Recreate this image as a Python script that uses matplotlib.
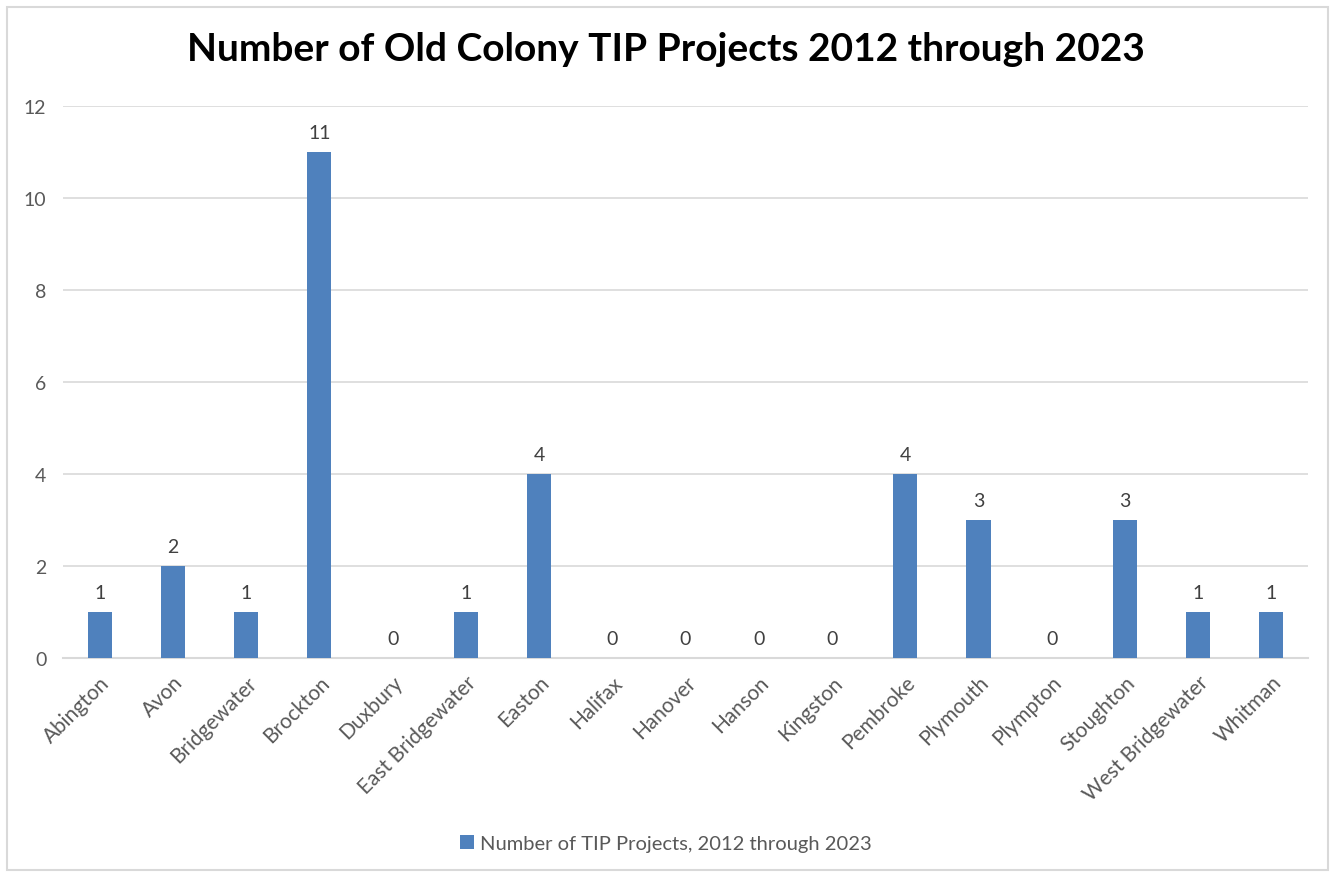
import matplotlib.pyplot as plt
import numpy as np
from matplotlib.patches import Rectangle

towns = ['Abington', 'Avon', 'Bridgewater', 'Brockton', 'Duxbury', 'East Bridgewater',
         'Easton', 'Halifax', 'Hanover', 'Hanson', 'Kingston', 'Pembroke', 'Plymouth',
         'Plympton', 'Stoughton', 'West Bridgewater', 'Whitman']
projects = [1, 2, 1, 11, 0, 1, 4, 0, 0, 0, 0, 4, 3, 0, 3, 1, 1]
yticks = [0, 2, 4, 6, 8, 10, 12]

plt.rcParams['font.family'] = ['Lato', 'DejaVu Sans']

fig = plt.figure(figsize=(13.32, 8.78), dpi=100)
ax = fig.add_axes([0.0473, 0.2494, 0.9347, 0.6286])

# outer chart border like the spreadsheet frame
fig.patches.append(Rectangle((0.005, 0.008), 0.992, 0.983, transform=fig.transFigure,
                             fill=False, edgecolor='#d9d9d9', linewidth=1.5))

x = np.arange(len(towns))
bars = ax.bar(x, projects, width=0.33, color='#4f81bd', zorder=3,
              label='Number of TIP Projects, 2012 through 2023')

for xi, v in zip(x, projects):
    ax.text(xi, v + 0.25, str(v), ha='center', va='bottom', fontsize=14, color='#404040')

ax.set_xlim(-0.5, len(towns) - 0.5)
ax.set_ylim(0, 12)
ax.set_yticks(yticks)
ax.yaxis.grid(True, color='#d9d9d9', linewidth=1.2, zorder=0)
ax.set_axisbelow(True)
for s in ['top', 'right', 'left']:
    ax.spines[s].set_visible(False)
ax.spines['bottom'].set_color('#d9d9d9')
ax.spines['bottom'].set_linewidth(1.5)
ax.tick_params(axis='both', length=0, colors='#595959', labelsize=14)
ax.tick_params(axis='y', pad=12)
ax.set_xticks(x)
ax.set_xticklabels(towns, rotation=45, ha='right', rotation_mode='anchor', fontsize=15)
ax.tick_params(axis='x', pad=10)

fig.suptitle('Number of Old Colony TIP Projects 2012 through 2023', fontsize=28,
             fontweight='bold', y=0.963)

fig.legend(loc='center', bbox_to_anchor=(0.5, 0.038), frameon=False, fontsize=14.5,
           handlelength=0.7, handleheight=0.7, handletextpad=0.3, labelcolor='#595959')

fig.savefig('out.png', dpi=100)
